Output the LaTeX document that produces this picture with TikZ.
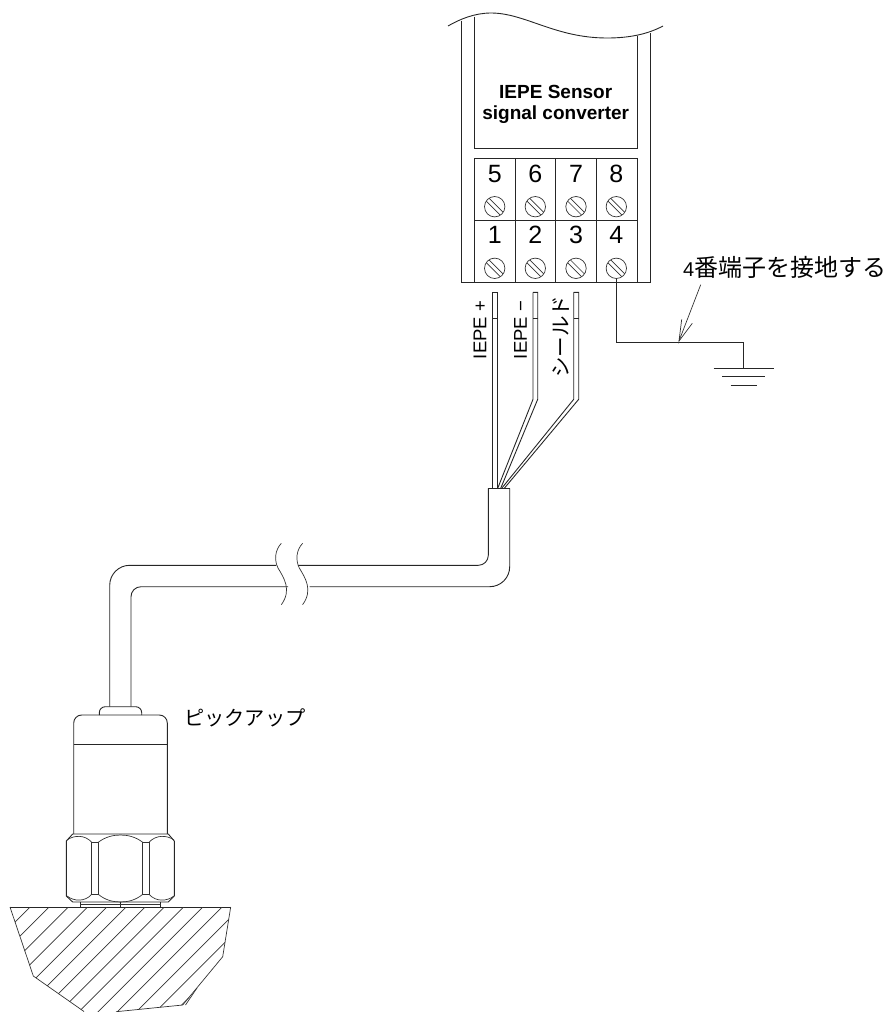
\documentclass[tikz,border=0pt]{standalone}
\usepackage{fontspec}
\setmainfont{Liberation Sans}
\newfontfamily\jp{Noto Sans CJK JP}
\tikzset{
  ln/.style={draw=black!85,line width=0.9pt},
  fine/.style={draw=black!80,line width=0.7pt},
  digit/.style={font=\fontsize{25}{25}\selectfont,inner sep=0pt,text=black},
  wirelabel/.style={font=\fontsize{18.5}{18.5}\selectfont,rotate=90,inner sep=0pt,text=black},
  jplabel/.style={inner sep=0pt,text=black},
}
\newcommand{\screw}[2]{%
  \draw[fine] (#1,#2) circle (10.2);
  \draw[fine] ({#1-5.5},{#2-8.3}) -- ({#1+8.3},{#2+5.5});
  \draw[fine] ({#1-8.3},{#2-5.5}) -- ({#1+5.5},{#2+8.3});
}
\begin{document}
\begin{tikzpicture}[x=1pt,y=-1pt]
\useasboundingbox (0,0) rectangle (886,1012);
% converter housing
\draw[ln] (448,26) .. controls (460,19) and (475,13) .. (491,13) .. controls (525,13) and (555,38) .. (607,38) .. controls (630,38) and (648,34) .. (663,26);
\coordinate (hl) at (461.7,282.7);
\coordinate (hr) at (650,282.7);
\draw[ln] (461.7,20.5) -- (hl) -- (hr) -- (650,32.5);
\draw[ln] (474.3,16.5) -- (474.3,148.7) -- (637.3,148.7) -- (637.3,35.5);
\draw[ln] (474.3,158.7) rectangle (637.3,282.7);
\draw[ln] (474.3,220.7) -- (637.3,220.7);
\foreach \x in {515,555.7,596.3}{\draw[ln] (\x,158.7) -- (\x,282.7);}
\node[font=\bfseries\fontsize{19}{21}\selectfont,align=center,inner sep=0pt,anchor=base,text=black] (title) at (555.7,119.5) {IEPE Sensor\\signal converter};
\node[digit] (d5) at (494.7,174) {5};
\node[digit] (d6) at (535.3,174) {6};
\node[digit] (d7) at (576,174) {7};
\node[digit] (d8) at (616.3,174) {8};
\node[digit] (d1) at (494.7,235) {1};
\node[digit] (d2) at (535.3,235) {2};
\node[digit] (d3) at (576,235) {3};
\node[digit] (d4) at (616.3,235) {4};
\foreach \x in {494.7,535.3,576,616.3}{\screw{\x}{206.7}\screw{\x}{268.3}}
% ground wire
\draw[ln] (616.7,278.5) -- (616.7,342.3) -- (743.7,342.3) -- (743.7,368.3);
\draw[ln] (713.7,368.3) -- (774,368.3);
\draw[ln] (722.3,376.7) -- (765.3,376.7);
\draw[ln] (730.7,385) -- (756.7,385);
\coordinate (atail) at (700.7,284.7);
\coordinate (atip) at (679,341);
\draw[fine] (atail) -- (atip) -- (681.7,319.3);
\draw[fine] (atip) -- (692.3,323.3);
\node[jplabel,anchor=west] (gnd) at (683,267) {\fontsize{20}{20}\selectfont 4\jp\fontsize{24}{24}\selectfont 番端子を接地する};
% wires
\draw[ln] (497.3,292.3) -- (492.3,292.3) -- (492.3,488.3);
\draw[ln] (497.3,292.3) -- (497.3,488.3);
\draw[ln] (492.3,318.3) -- (497.3,318.3);
\draw[ln] (533,292.3) -- (537.7,292.3) -- (537.7,399.3) -- (500.7,488.3);
\draw[ln] (533,292.3) -- (533,399.3) -- (497.7,488.3);
\draw[ln] (533,318.3) -- (537.7,318.3);
\draw[ln] (573.7,292.3) -- (578.7,292.3) -- (578.7,399.3) -- (504.3,488.3);
\draw[ln] (573.7,292.3) -- (573.7,399.3) -- (501.7,488.3);
\draw[ln] (573.7,318.3) -- (578.7,318.3);
\node[wirelabel] (l1) at (480,330) {IEPE +};
\node[wirelabel] (l2) at (520.5,330) {IEPE −};
\node[wirelabel,font=\jp\fontsize{20.5}{20.5}\selectfont] (l3) at (561,336.5) {シールド};
% cable
\draw[ln] (488.3,488.3) -- (509.7,488.3);
\draw[ln,rounded corners=10pt] (488.3,488.3) -- (488.3,565.3) -- (298,565.3);
\draw[ln,rounded corners=20pt] (276,565.3) -- (109.7,565.3) -- (109.7,706.7);
\draw[ln,rounded corners=20pt] (509.7,488.3) -- (509.7,586.7) -- (309.5,586.7);
\draw[ln,rounded corners=10pt] (288,586.7) -- (131,586.7) -- (131,706.7);
\draw[fine] (281.3,543.3) .. controls (275,550) and (274,560) .. (278,568) .. controls (284,578) and (292,590) .. (281.3,604.7);
\draw[fine] (302.6,543.3) .. controls (296.3,550) and (295.3,560) .. (299.3,568) .. controls (305.3,578) and (313.3,590) .. (302.6,604.7);
% pickup
\draw[ln,rounded corners=6pt] (99.3,715) -- (99.3,706.7) -- (141.7,706.7) -- (141.7,715);
\draw[ln,rounded corners=8pt] (73.7,834) -- (73.7,715) -- (167.3,715) -- (167.3,834);
\draw[ln] (73.7,744.7) -- (167.3,744.7);
% nut
\draw[ln] (72.7,834) -- (168.3,834) -- (174.3,841) -- (174.3,896) -- (168.3,902) -- (72.7,902) -- (66.3,896) -- (66.3,841) -- cycle;
\draw[fine] (91.7,842.3) rectangle (98.3,894.3);
\draw[fine] (142.7,842.3) rectangle (149,894.3);
\draw[fine] (67,840) .. controls (74,835) and (85,834.5) .. (91.7,842.3);
\draw[fine] (174,840) .. controls (167,835) and (156,834.5) .. (149,842.3);
\draw[fine] (67,896) .. controls (74,901.5) and (85,902) .. (91.7,894.3);
\draw[fine] (174,896) .. controls (167,901.5) and (156,902) .. (149,894.3);
\draw[fine] (98.3,842.3) .. controls (105,837) and (113,835) .. (120.5,835) .. controls (128,835) and (136,837) .. (142.7,842.3);
\draw[fine] (98.3,894.3) .. controls (105,900) and (113,902) .. (120.5,902) .. controls (128,902) and (136,900) .. (142.7,894.3);
\draw[ln] (80.3,902) -- (80.3,907);
\draw[ln] (160.7,902) -- (160.7,907);
\draw[ln] (120.7,902) -- (120.7,907);
\draw[fine] (80.3,904) -- (160.7,904);
\node[jplabel,anchor=west,font=\jp\fontsize{20.2}{20.2}\selectfont] (pick) at (184,718) {ピックアップ};
% mount
\draw[ln] (10,907) -- (230.7,907);
\draw[fine] (10,907) -- (33.3,976) -- (84,1011.5);
\draw[fine] (116,1011.7) -- (182.7,1005) -- (222.7,956.7) -- (230.7,907);
\draw[fine] (185.5,1005) -- (197,988);
\begin{scope}
\clip (10,907) -- (33.3,976) -- (84,1012) -- (116,1012) -- (182.7,1005) -- (222.7,956.7) -- (230.7,907) -- cycle;
\foreach \k in {0,...,13}{
  \draw[fine] ({30+19.2*\k},907) -- ({30+19.2*\k-130},1037);
}
\end{scope}
\end{tikzpicture}
\end{document}
